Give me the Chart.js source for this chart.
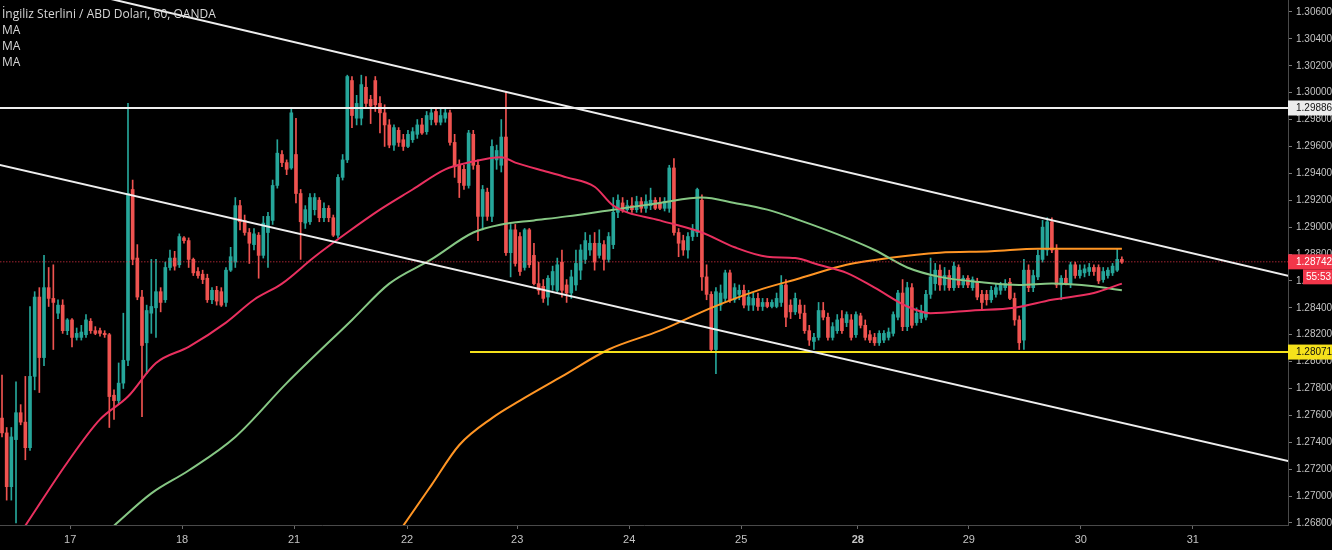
<!DOCTYPE html>
<html>
<head>
<meta charset="utf-8">
<script src="https://cdn.jsdelivr.net/npm/chart.js@4.4.1/dist/chart.umd.min.js"></script>
<style>
  html, body { margin: 0; padding: 0; background: #000; }
  #wrap { width: 1332px; height: 550px; }
</style>
</head>
<body>
<div id="wrap"><canvas id="chart" width="1332" height="550"></canvas></div>
<script>
// GBP/USD 1h candles
const title = 'İngiliz Sterlini / ABD Doları, 60, OANDA';
const legendItems = ['MA', 'MA', 'MA'];

const dayLabels = ['17', '18', '21', '22', '23', '24', '25', '28', '29', '30', '31'];
const dayPos = [14.6, 38.6, 62.6, 86.8, 110.4, 134.4, 158.4, 183.4, 207.2, 231.2, 255.2];

const yTicks = [1.268, 1.270, 1.272, 1.274, 1.276, 1.278, 1.280, 1.282, 1.284, 1.286,
                1.288, 1.290, 1.292, 1.294, 1.296, 1.298, 1.300, 1.302, 1.304, 1.306];

const candleOpen = [
  1.2758,1.2747,1.2707,1.2742,1.2762,1.2755,1.2736,1.2789,1.2848,1.2803,
  1.2855,1.2847,1.2836,1.2842,1.2823,1.2831,1.2818,1.2818,1.2820,1.2830,
  1.2823,1.2823,1.2821,1.2820,1.2775,1.2771,1.2784,1.2801,1.2928,1.2877,
  1.2848,1.2814,1.2836,1.2840,1.2852,1.2846,1.2870,1.2877,1.2872,1.2892,
  1.2890,1.2876,1.2867,1.2865,1.2862,1.2846,1.2853,1.2852,1.2844,1.2868,
  1.2874,1.2916,1.2905,1.2896,1.2887,1.2894,1.2879,1.2896,1.2905,1.2931,
  1.2954,1.2948,1.2944,1.2954,1.2925,1.2903,1.2904,1.2913,1.2920,1.2907,
  1.2914,1.2907,1.2894,1.2937,1.2950,1.3009,1.2981,1.2981,1.3004,1.2995,
  1.3009,1.2992,1.2985,1.2976,1.2961,1.2972,1.2965,1.2960,1.2965,1.2969,
  1.2976,1.2971,1.2980,1.2986,1.2978,1.2981,1.2985,1.2963,1.2946,1.2943,
  1.2931,1.2969,1.2946,1.2908,1.2926,1.2908,1.2950,1.2946,1.2967,1.2881,
  1.2898,1.2893,1.2870,1.2898,1.2879,1.2858,1.2856,1.2848,1.2857,1.2853,
  1.2874,1.2857,1.2851,1.2857,1.2868,1.2876,1.2883,1.2888,1.2879,1.2887,
  1.2876,1.2887,1.2911,1.2918,1.2913,1.2916,1.2913,1.2919,1.2914,1.2916,
  1.2920,1.2918,1.2914,1.2914,1.2944,1.2896,1.2890,1.2883,1.2893,1.2896,
  1.2920,1.2863,1.2850,1.2809,1.2842,1.2847,1.2866,1.2846,1.2850,1.2853,
  1.2842,1.2842,1.2847,1.2841,1.2844,1.2841,1.2841,1.2844,1.2857,1.2842,
  1.2837,1.2842,1.2836,1.2823,1.2815,1.2818,1.2838,1.2833,1.2818,1.2823,
  1.2832,1.2829,1.2831,1.2820,1.2834,1.2827,1.2820,1.2818,1.2814,1.2816,
  1.2818,1.2821,1.2833,1.2851,1.2826,1.2855,1.2829,1.2832,1.2833,1.2850,
  1.2858,1.2868,1.2857,1.2864,1.2855,1.2870,1.2857,1.2862,1.2855,1.2859,
  1.2850,1.2850,1.2846,1.2850,1.2853,1.2855,1.2859,1.2847,1.2831,1.2816,
  1.2868,1.2855,1.2863,1.2876,1.2883,1.2904,1.2883,1.2857,1.2862,1.2858,
  1.2872,1.2864,1.2866,1.2867,1.2870,1.2870,1.2861,1.2864,1.2866,1.2868,
  1.2876
];
const candleHigh = [
  1.2790,1.2751,1.2751,1.2785,1.2768,1.2789,1.2841,1.2852,1.2855,1.2879,
  1.2870,1.2872,1.2846,1.2846,1.2832,1.2832,1.2825,1.2827,1.2835,1.2832,
  1.2826,1.2825,1.2823,1.2821,1.2779,1.2799,1.2836,1.2992,1.2935,1.2887,
  1.2853,1.2842,1.2876,1.2876,1.2855,1.2874,1.2883,1.2882,1.2895,1.2893,
  1.2892,1.2877,1.2870,1.2868,1.2865,1.2855,1.2856,1.2855,1.2870,1.2885,
  1.2922,1.2920,1.2909,1.2899,1.2899,1.2896,1.2908,1.2911,1.2935,1.2965,
  1.2957,1.2950,1.2989,1.2981,1.2928,1.2916,1.2925,1.2925,1.2922,1.2918,
  1.2916,1.2909,1.2939,1.2954,1.3013,1.3012,1.2998,1.3013,1.3012,1.2998,
  1.3012,1.2997,1.2991,1.2980,1.2976,1.2974,1.2969,1.2972,1.2974,1.2980,
  1.2981,1.2986,1.2989,1.2989,1.2989,1.2989,1.2987,1.2969,1.2950,1.2946,
  1.2972,1.2972,1.2950,1.2931,1.2929,1.2965,1.2961,1.2980,1.3001,1.2902,
  1.2902,1.2896,1.2899,1.2899,1.2888,1.2874,1.2861,1.2864,1.2871,1.2877,
  1.2883,1.2861,1.2868,1.2883,1.2887,1.2896,1.2894,1.2896,1.2898,1.2890,
  1.2896,1.2922,1.2924,1.2922,1.2920,1.2922,1.2923,1.2922,1.2924,1.2929,
  1.2922,1.2922,1.2922,1.2946,1.2951,1.2899,1.2894,1.2896,1.2902,1.2929,
  1.2924,1.2872,1.2852,1.2855,1.2857,1.2868,1.2868,1.2858,1.2857,1.2857,
  1.2853,1.2851,1.2851,1.2847,1.2847,1.2846,1.2851,1.2864,1.2861,1.2846,
  1.2851,1.2846,1.2842,1.2827,1.2821,1.2844,1.2844,1.2836,1.2829,1.2835,
  1.2838,1.2837,1.2835,1.2837,1.2836,1.2831,1.2823,1.2821,1.2823,1.2823,
  1.2825,1.2837,1.2853,1.2861,1.2859,1.2858,1.2840,1.2842,1.2853,1.2877,
  1.2873,1.2872,1.2870,1.2868,1.2874,1.2872,1.2864,1.2864,1.2863,1.2862,
  1.2853,1.2853,1.2856,1.2858,1.2859,1.2861,1.2862,1.2851,1.2834,1.2876,
  1.2872,1.2868,1.2883,1.2905,1.2907,1.2907,1.2887,1.2864,1.2868,1.2874,
  1.2874,1.2872,1.2872,1.2873,1.2872,1.2872,1.2870,1.2870,1.2873,1.2884,
  1.2878
];
const candleLow = [
  1.2744,1.2697,1.2697,1.2680,1.2753,1.2727,1.2734,1.2779,1.2777,1.2797,
  1.2841,1.2809,1.2832,1.2821,1.2820,1.2811,1.2816,1.2816,1.2818,1.2821,
  1.2820,1.2819,1.2818,1.2751,1.2757,1.2768,1.2780,1.2797,1.2872,1.2846,
  1.2759,1.2791,1.2821,1.2818,1.2837,1.2844,1.2868,1.2868,1.2870,1.2888,
  1.2870,1.2864,1.2862,1.2858,1.2844,1.2843,1.2842,1.2841,1.2841,1.2867,
  1.2870,1.2898,1.2894,1.2873,1.2883,1.2862,1.2877,1.2870,1.2902,1.2929,
  1.2945,1.2939,1.2943,1.2918,1.2876,1.2899,1.2902,1.2909,1.2904,1.2904,
  1.2904,1.2893,1.2892,1.2935,1.2948,1.2974,1.2976,1.2976,1.2989,1.2977,
  1.2986,1.2970,1.2960,1.2959,1.2957,1.2960,1.2957,1.2959,1.2963,1.2966,
  1.2969,1.2969,1.2976,1.2976,1.2976,1.2978,1.2961,1.2937,1.2922,1.2928,
  1.2929,1.2943,1.2890,1.2898,1.2905,1.2904,1.2943,1.2941,1.2879,1.2863,
  1.2871,1.2864,1.2868,1.2870,1.2857,1.2850,1.2844,1.2842,1.2853,1.2852,
  1.2848,1.2844,1.2847,1.2853,1.2861,1.2873,1.2879,1.2868,1.2877,1.2868,
  1.2874,1.2884,1.2907,1.2911,1.2911,1.2911,1.2911,1.2911,1.2911,1.2913,
  1.2913,1.2913,1.2912,1.2911,1.2894,1.2878,1.2879,1.2877,1.2890,1.2893,
  1.2853,1.2846,1.2807,1.2791,1.2838,1.2844,1.2844,1.2844,1.2846,1.2840,
  1.2838,1.2838,1.2838,1.2838,1.2840,1.2840,1.2840,1.2841,1.2826,1.2832,
  1.2835,1.2832,1.2821,1.2812,1.2809,1.2816,1.2831,1.2816,1.2816,1.2821,
  1.2821,1.2826,1.2816,1.2818,1.2825,1.2816,1.2814,1.2812,1.2812,1.2814,
  1.2816,1.2819,1.2831,1.2823,1.2823,1.2825,1.2827,1.2829,1.2831,1.2847,
  1.2853,1.2853,1.2853,1.2853,1.2853,1.2855,1.2855,1.2855,1.2853,1.2846,
  1.2838,1.2842,1.2844,1.2848,1.2850,1.2853,1.2846,1.2827,1.2809,1.2809,
  1.2852,1.2852,1.2861,1.2874,1.2879,1.2881,1.2855,1.2846,1.2857,1.2855,
  1.2862,1.2862,1.2863,1.2864,1.2864,1.2858,1.2859,1.2862,1.2864,1.2867,
  1.2873
];
const candleClose = [
  1.2747,1.2707,1.2744,1.2762,1.2755,1.2736,1.2789,1.2848,1.2803,1.2855,
  1.2847,1.2844,1.2842,1.2823,1.2831,1.2818,1.2821,1.2822,1.2831,1.2823,
  1.2821,1.2821,1.2820,1.2774,1.2771,1.2784,1.2801,1.2925,1.2876,1.2848,
  1.2812,1.2838,1.2841,1.2852,1.2844,1.2870,1.2877,1.2871,1.2893,1.2890,
  1.2876,1.2866,1.2864,1.2861,1.2846,1.2853,1.2845,1.2842,1.2868,1.2878,
  1.2916,1.2904,1.2896,1.2888,1.2895,1.2879,1.2903,1.2908,1.2931,1.2955,
  1.2948,1.2943,1.2985,1.2925,1.2904,1.2913,1.2922,1.2922,1.2907,1.2914,
  1.2907,1.2894,1.2937,1.2950,1.3012,1.2983,1.2992,1.3006,1.2992,1.2990,
  1.2991,1.2985,1.2976,1.2961,1.2974,1.2963,1.2960,1.2969,1.2971,1.2976,
  1.2970,1.2983,1.2985,1.2978,1.2983,1.2985,1.2963,1.2945,1.2933,1.2931,
  1.2970,1.2946,1.2908,1.2928,1.2908,1.2960,1.2957,1.2967,1.2881,1.2898,
  1.2873,1.2867,1.2898,1.2872,1.2858,1.2853,1.2847,1.2862,1.2867,1.2872,
  1.2853,1.2851,1.2863,1.2873,1.2883,1.2890,1.2888,1.2874,1.2888,1.2876,
  1.2893,1.2911,1.2920,1.2913,1.2916,1.2913,1.2919,1.2914,1.2919,1.2920,
  1.2914,1.2914,1.2919,1.2944,1.2896,1.2888,1.2883,1.2893,1.2898,1.2928,
  1.2863,1.2850,1.2809,1.2852,1.2851,1.2866,1.2846,1.2855,1.2853,1.2842,
  1.2848,1.2847,1.2841,1.2844,1.2841,1.2844,1.2847,1.2857,1.2833,1.2837,
  1.2847,1.2836,1.2823,1.2816,1.2818,1.2838,1.2833,1.2818,1.2826,1.2831,
  1.2823,1.2835,1.2818,1.2835,1.2827,1.2818,1.2816,1.2814,1.2821,1.2821,
  1.2822,1.2835,1.2851,1.2826,1.2855,1.2827,1.2836,1.2837,1.2850,1.2863,
  1.2868,1.2857,1.2864,1.2855,1.2871,1.2857,1.2862,1.2857,1.2861,1.2848,
  1.2844,1.2846,1.2853,1.2855,1.2857,1.2858,1.2847,1.2831,1.2814,1.2868,
  1.2855,1.2864,1.2879,1.2900,1.2904,1.2883,1.2857,1.2862,1.2858,1.2872,
  1.2864,1.2868,1.2869,1.2870,1.2867,1.2860,1.2867,1.2868,1.2871,1.2876,
  1.2874
];

// moving averages, sampled along the drawn curves (bar index, price)
const maRedIdx = [5,14,21,27,33,40,48,54,60,67,74,81,88,95,100,107,110,117,121,127,
                  131,141,150,157,164,170,175,181,187,194,199,208,217,225,234,240];
const maRed = [1.2678,1.2725,1.2757,1.2774,1.2799,1.2811,1.2829,1.2846,1.2858,1.2878,
               1.2896,1.2913,1.2928,1.2943,1.2948,1.2952,1.2948,1.2941,1.2937,1.2930,
               1.2916,1.2905,1.2896,1.2885,1.2878,1.2877,1.2872,1.2866,1.2855,1.2841,
               1.2836,1.2838,1.2840,1.2846,1.2851,1.2858];
const maGreenIdx = [24,32,40,50,61,75,83,92,101,107,114,121,131,141,150,157,164,171,
                    181,187,194,201,210,218,225,234,240];
const maGreen = [1.2678,1.2702,1.2719,1.2744,1.2784,1.2831,1.2858,1.2876,1.2896,1.2902,
                 1.2905,1.2908,1.2913,1.2918,1.2922,1.2918,1.2913,1.2905,1.2892,1.2883,
                 1.2870,1.2863,1.2859,1.2857,1.2858,1.2856,1.2853];
const maOrangeIdx = [86,92,98,105,111,120,130,141,152,162,171,181,190,201,212,222,230,240];
const maOrange = [1.2678,1.2708,1.2738,1.2758,1.2771,1.2789,1.2809,1.2823,1.2840,1.2853,
                  1.2862,1.2872,1.2877,1.2881,1.2882,1.2884,1.2884,1.2884];

// drawn lines
const channelIdx = [-1, 276];
const channelUpper = [1.30895, 1.28635];
const channelLower = [1.29467, 1.27257];
const resistance = 1.29886;
const support = 1.28071;
const supportStart = 100.3;
const lastPrice = 1.28742;
const countdown = '55:53';

const yMin = 1.26785, yMax = 1.30689;
const xMin = -0.43, xMax = 275.6;

const UP = '#26a69a', DOWN = '#ef5350';
const AXIS_FONT = '"Liberation Sans", Arial, sans-serif';

const candleColor = i => candleClose[i] >= candleOpen[i] ? UP : DOWN;
const toPoints = (xs, ys) => xs.map((x, i) => ({ x: x, y: ys[i] }));

const wicks = candleOpen.map((o, i) => ({ x: i, y: [candleLow[i], candleHigh[i]] }));
const bodies = candleOpen.map((o, i) => ({ x: i, y: [o, candleClose[i]] }));

function lineSet(data, color, width, extra) {
  return Object.assign({
    type: 'line', data: data, borderColor: color, borderWidth: width,
    pointRadius: 0, fill: false, tension: 0, order: 1
  }, extra || {});
}

const overlay = {
  id: 'overlay',
  afterDraw(chart) {
    const ctx = chart.ctx;
    const ys = chart.scales.y;
    const area = chart.chartArea;
    ctx.save();
    ctx.font = '12px "Open Sans", sans-serif';
    ctx.fillStyle = '#d6d6d6';
    ctx.textBaseline = 'middle';
    ctx.textAlign = 'left';
    ctx.fillText(title, 2, 15);
    legendItems.forEach((t, k) => ctx.fillText(t, 2, 31 + 16 * k));

    const tag = (value, text, bg, fg, dy, x0) => {
      const y = ys.getPixelForValue(value) + (dy || 0);
      const left = x0 || area.right;
      ctx.fillStyle = bg;
      ctx.fillRect(left, y - 7.5, chart.width - left, 15);
      ctx.fillStyle = fg;
      ctx.font = '10px ' + AXIS_FONT;
      ctx.fillText(text, left === area.right ? area.right + 8 : left + 3, y + 0.5);
    };
    tag(resistance, resistance.toFixed(5), '#ececec', '#111', 0);
    tag(lastPrice, lastPrice.toFixed(5), '#f2364a', '#fff', 0);
    tag(lastPrice, countdown, '#f2364a', '#fff', 15, area.right + 15);
    tag(support, support.toFixed(5), '#f5e11b', '#111', 0);
    ctx.restore();
  }
};

new Chart(document.getElementById('chart'), {
  type: 'bar',
  data: {
    datasets: [
      { type: 'bar', data: wicks, backgroundColor: c => candleColor(c.dataIndex),
        barThickness: 1, grouped: false, order: 10 },
      { type: 'bar', data: bodies, backgroundColor: c => candleColor(c.dataIndex),
        barThickness: 3, minBarLength: 1, grouped: false, order: 9 },
      lineSet(toPoints(maRedIdx, maRed), '#e9305f', 2, { cubicInterpolationMode: 'monotone', order: 3 }),
      lineSet(toPoints(maGreenIdx, maGreen), '#86c784', 2, { cubicInterpolationMode: 'monotone', order: 3 }),
      lineSet(toPoints(maOrangeIdx, maOrange), '#ff9524', 2, { cubicInterpolationMode: 'monotone', order: 3 }),
      lineSet(toPoints(channelIdx, [lastPrice, lastPrice]), '#f2364a', 1, { borderDash: [1, 2], order: 2 }),
      lineSet(toPoints(channelIdx, channelUpper), '#eeeeee', 2),
      lineSet(toPoints(channelIdx, channelLower), '#eeeeee', 2),
      lineSet(toPoints(channelIdx, [resistance, resistance]), '#eeeeee', 2),
      lineSet(toPoints([supportStart, channelIdx[1]], [support, support]), '#f5e11b', 2)
    ]
  },
  options: {
    responsive: false,
    devicePixelRatio: 1,
    animation: false,
    layout: { padding: 0 },
    plugins: { legend: { display: false }, tooltip: { enabled: false } },
    scales: {
      x: {
        type: 'linear', min: xMin, max: xMax, offset: false,
        grid: { drawOnChartArea: false, offset: false, tickLength: 4, color: '#6a6a6a' },
        border: { color: '#4a4a4a' },
        ticks: {
          color: '#c4c4c4', padding: 4, maxRotation: 0, autoSkip: false,
          font: c => ({ family: AXIS_FONT, size: 11,
                        weight: c.tick && c.tick.label === '28' ? 'bold' : 'normal' }),
          callback: (v, i) => dayLabels[i]
        },
        afterBuildTicks: s => { s.ticks = dayPos.map(v => ({ value: v })); },
        afterFit: s => { s.height = 25; s.paddingLeft = 0; s.paddingRight = 0; }
      },
      y: {
        position: 'right', min: yMin, max: yMax,
        grid: { drawOnChartArea: false, tickLength: 4, color: '#7a7a7a' },
        border: { color: '#4a4a4a' },
        ticks: {
          color: '#c4c4c4', padding: 4, font: { family: AXIS_FONT, size: 10 },
          callback: v => v.toFixed(5)
        },
        afterBuildTicks: s => { s.ticks = yTicks.map(v => ({ value: v })); },
        afterFit: s => { s.width = 44; s.paddingTop = 0; s.paddingBottom = 0; }
      }
    }
  },
  plugins: [overlay]
});
</script>
</body>
</html>
